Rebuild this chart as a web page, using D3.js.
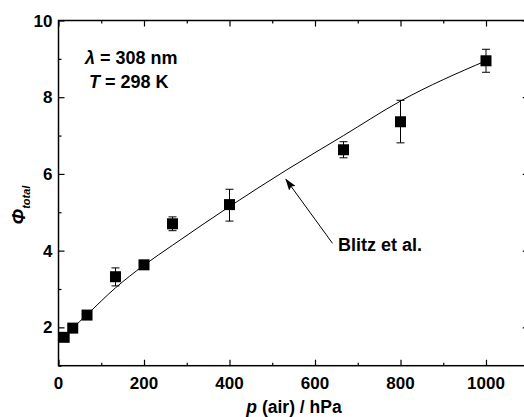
<!DOCTYPE html>
<html><head><meta charset="utf-8">
<script src="https://cdn.jsdelivr.net/npm/d3@7"></script>
<style>
html,body{margin:0;padding:0;background:#fff;}
svg text{font-family:"Liberation Sans",Arial,sans-serif;font-weight:bold;fill:#000;}
</style></head>
<body>
<script>
// Measured data (p in hPa)
const pressure = [13.3, 33.3, 66.7, 133.3, 200, 266.7, 400, 666.7, 800, 1000];
const phi      = [1.74, 1.98, 2.32, 3.32, 3.63, 4.70, 5.20, 6.63, 7.36, 8.95];
const errLow   = [1.74, 1.98, 2.32, 3.08, 3.63, 4.52, 4.77, 6.42, 6.81, 8.65];
const errHigh  = [1.74, 1.98, 2.32, 3.55, 3.63, 4.88, 5.60, 6.84, 7.92, 9.25];
// Blitz et al. curve
const blitzP   = [13.3, 33.3, 66.7, 133.3, 200, 266.7, 400, 533, 666.7, 800, 1000];
const blitzPhi = [1.75, 1.98, 2.33, 3.03, 3.62, 4.14, 5.15, 6.10, 7.00, 7.90, 8.95];
const xTicks = [0, 200, 400, 600, 800, 1000];
const yTicks = [2, 4, 6, 8, 10];

(function () {
const W = 524, H = 417;
const svg = d3.select("body").append("svg").attr("width", W).attr("height", H);
const mLeft = 58.5, mTop = 20.5, mBottom = 365.7;
const x = d3.scaleLinear().domain([0, 1100]).range([mLeft, mLeft + 1100 * 0.4275]);
const y = d3.scaleLinear().domain([1, 10]).range([mBottom, mTop]);

const g = svg.append("g");
function ticksAxis(axis, scale, majors, minors, transform) {
  const a = g.append("g").attr("transform", transform)
    .call(axis(scale).tickValues(minors).tickSize(-3).tickFormat(""));
  a.select(".domain").remove();
  a.selectAll("line").attr("stroke", "#000").attr("stroke-width", 1.2);
  const b = g.append("g").attr("transform", transform)
    .call(axis(scale).tickValues(majors).tickSize(-6).tickFormat(""));
  b.select(".domain").remove();
  b.selectAll("line").attr("stroke", "#000").attr("stroke-width", 1.2);
}
const xMinor = d3.range(100, 1100, 200);
const yMinor = [1, 3, 5, 7, 9];
ticksAxis(d3.axisBottom, x, xTicks, xMinor, `translate(0,${mBottom})`);
ticksAxis(d3.axisTop, x, xTicks, xMinor, `translate(0,${mTop})`);
ticksAxis(d3.axisLeft, y, yTicks, yMinor, `translate(${mLeft},0)`);
ticksAxis(d3.axisRight, y, yTicks, yMinor, `translate(${x(1100)},0)`);

g.append("rect").attr("x", mLeft).attr("y", mTop)
  .attr("width", x(1100) - mLeft).attr("height", mBottom - mTop)
  .attr("fill", "none").attr("stroke", "#000").attr("stroke-width", 1.5);

g.selectAll(".xl").data(xTicks).enter().append("text")
  .attr("x", d => x(d)).attr("y", mBottom + 23).attr("text-anchor", "middle")
  .attr("font-size", 17).text(d => d);
g.selectAll(".yl").data(yTicks).enter().append("text")
  .attr("x", mLeft - 6).attr("y", d => y(d) + 6).attr("text-anchor", "end")
  .attr("font-size", 17).text(d => d);

const line = d3.line().x((d, i) => x(blitzP[i])).y(d => y(d)).curve(d3.curveMonotoneX);
g.append("path").datum(blitzPhi).attr("d", line)
  .attr("fill", "none").attr("stroke", "#000").attr("stroke-width", 1);

pressure.forEach((d, idx) => {
  if (errHigh[idx] - errLow[idx] < 0.01) return;
  const cx = x(d);
  g.append("line").attr("x1", cx).attr("x2", cx)
    .attr("y1", y(errLow[idx])).attr("y2", y(errHigh[idx]))
    .attr("stroke", "#000").attr("stroke-width", 1);
  [errLow[idx], errHigh[idx]].forEach(v => {
    g.append("line").attr("x1", cx - 4).attr("x2", cx + 4)
      .attr("y1", y(v)).attr("y2", y(v)).attr("stroke", "#000").attr("stroke-width", 1);
  });
});

g.selectAll(".pt").data(pressure).enter().append("rect")
  .attr("x", d => x(d) - 5.5).attr("y", (d, i) => y(phi[i]) - 5.5)
  .attr("width", 11).attr("height", 11).attr("fill", "#000");

svg.append("defs").append("marker").attr("id", "ah")
  .attr("viewBox", "0 0 12 8").attr("refX", 11).attr("refY", 4)
  .attr("markerWidth", 12).attr("markerHeight", 8).attr("markerUnits", "userSpaceOnUse")
  .attr("orient", "auto")
  .append("path").attr("d", "M0,0 L12,4 L0,8 L2,4 z").attr("fill", "#000");
const tail = [x(641), y(4.19)], head = [x(532), y(5.86)];
g.append("line").attr("x1", tail[0]).attr("y1", tail[1])
  .attr("x2", head[0]).attr("y2", head[1])
  .attr("stroke", "#000").attr("stroke-width", 1).attr("marker-end", "url(#ah)");
g.append("text").attr("x", x(654)).attr("y", y(4.0)).attr("font-size", 18).text("Blitz et al.");

const t1 = g.append("text").attr("x", 85).attr("y", 64).attr("font-size", 18);
t1.append("tspan").attr("font-style", "italic").text("λ");
t1.append("tspan").text(" = 308 nm");
const t2 = g.append("text").attr("x", 89).attr("y", 87.5).attr("font-size", 18);
t2.append("tspan").attr("font-style", "italic").text("T");
t2.append("tspan").text(" = 298 K");

const xt = svg.append("text").attr("x", 294).attr("y", 413).attr("text-anchor", "middle")
  .attr("font-size", 17.5);
xt.append("tspan").attr("font-style", "italic").text("p");
xt.append("tspan").text(" (air) / hPa");

const yt = svg.append("text").attr("transform", "translate(25,205) rotate(-90)")
  .attr("text-anchor", "middle").attr("font-size", 19);
yt.append("tspan").attr("font-style", "italic").text("Φ");
yt.append("tspan").attr("font-style", "italic").attr("font-size", 11).attr("dy", 5).text("total");
})();
</script>
</body></html>
